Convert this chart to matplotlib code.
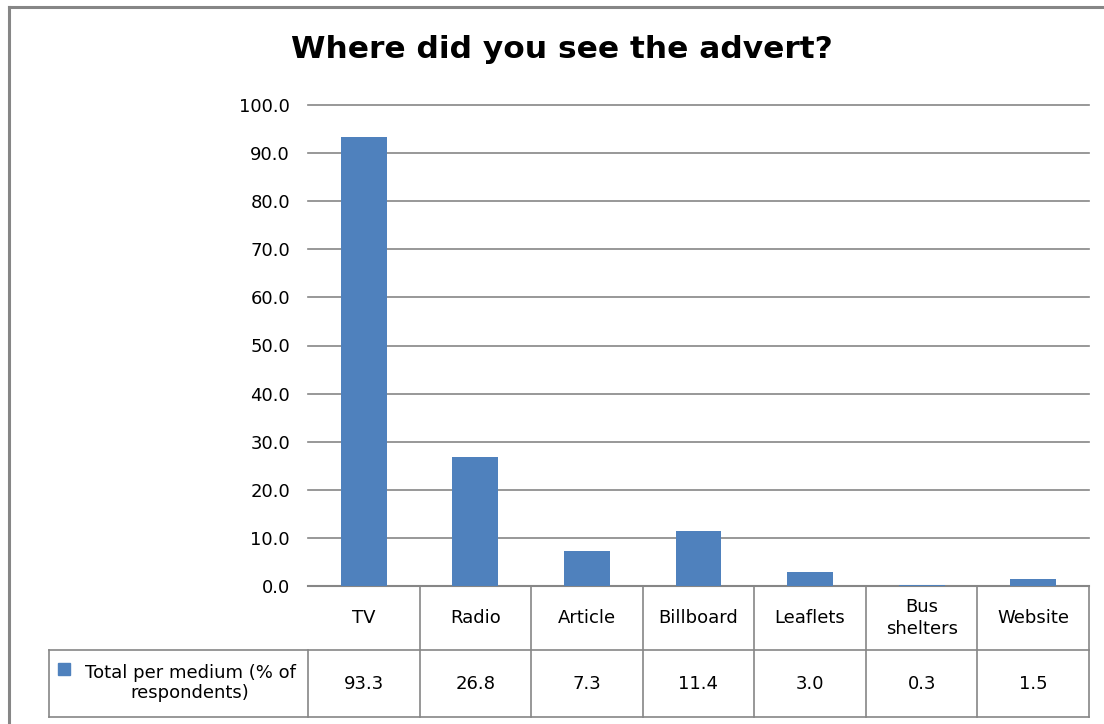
import matplotlib.pyplot as plt
from matplotlib.lines import Line2D
from matplotlib.patches import Rectangle
from matplotlib.transforms import blended_transform_factory

categories = ["TV", "Radio", "Article", "Billboard", "Leaflets", "Bus\nshelters", "Website"]
values = [93.3, 26.8, 7.3, 11.4, 3.0, 0.3, 1.5]
series_name = "Total per medium (% of\nrespondents)"
title = "Where did you see the advert?"

W, H = 1104, 724
blue = "#4f81bd"
grey = "#868686"

plt.rcParams['font.family'] = ['DejaVu Sans']

fig = plt.figure(figsize=(W / 100, H / 100), dpi=100)

def fx(px):
    return px / W

def fy(py):
    return 1 - py / H

left, right, top, bottom = 308, 1089, 105, 586
ax = fig.add_axes([fx(left), fy(bottom), fx(right - left), (bottom - top) / H])

x = range(len(categories))
ax.bar(x, values, width=0.41, color=blue, zorder=3)
ax.set_xlim(-0.5, len(categories) - 0.5)
ax.set_ylim(0, 100)
ax.set_yticks(range(0, 101, 10))
ax.set_yticklabels([f"{v:.1f}" for v in range(0, 101, 10)], fontsize=13)
ax.yaxis.grid(True, color=grey, linewidth=1.2)
for gl in ax.get_ygridlines():
    gl.set_clip_on(False)
ax.tick_params(axis='y', length=0, pad=13)
ax.set_xticks([])
for s in ["left", "right", "top"]:
    ax.spines[s].set_visible(False)
ax.spines["bottom"].set_color(grey)
ax.spines["bottom"].set_linewidth(1.5)

fig.text(fx(562), fy(50), title, ha="center", va="center", fontsize=22.5, fontweight="bold")

# data table under the plot
tr = blended_transform_factory(ax.transData, fig.transFigure)
lw = 1.2
y_head_top, y_mid, y_bot = fy(586), fy(650), fy(717)
n = len(categories)
for i in range(n + 1):
    xb = i - 0.5
    y_start = y_mid if i == 0 else y_head_top
    fig.add_artist(Line2D([xb, xb], [y_bot, y_start], transform=tr, color=grey, lw=lw))
fig.add_artist(Line2D([fx(49), fx(right)], [y_mid, y_mid], transform=fig.transFigure, color=grey, lw=lw))
fig.add_artist(Line2D([fx(49), fx(right)], [y_bot, y_bot], transform=fig.transFigure, color=grey, lw=lw))
fig.add_artist(Line2D([fx(49), fx(49)], [y_bot, y_mid], transform=fig.transFigure, color=grey, lw=lw))

for i, (c, v) in enumerate(zip(categories, values)):
    fig.text(i, fy(618), c, transform=tr, ha="center", va="center", fontsize=13, linespacing=1.3)
    fig.text(i, fy(684), f"{v:.1f}", transform=tr, ha="center", va="center", fontsize=13)

fig.add_artist(Rectangle((fx(58), fy(675)), fx(12), 12 / H, transform=fig.transFigure, color=blue))
fig.text(fx(190), fy(683), series_name, ha="center", va="center", fontsize=13, linespacing=1.15)

# chart border (left and top edges visible)
fig.add_artist(Line2D([fx(9), 1], [fy(6.5), fy(6.5)], transform=fig.transFigure, color=grey, lw=2.2))
fig.add_artist(Line2D([fx(9), fx(9)], [0, fy(6.5)], transform=fig.transFigure, color=grey, lw=2.2))

fig.savefig("out.png", dpi=100)
